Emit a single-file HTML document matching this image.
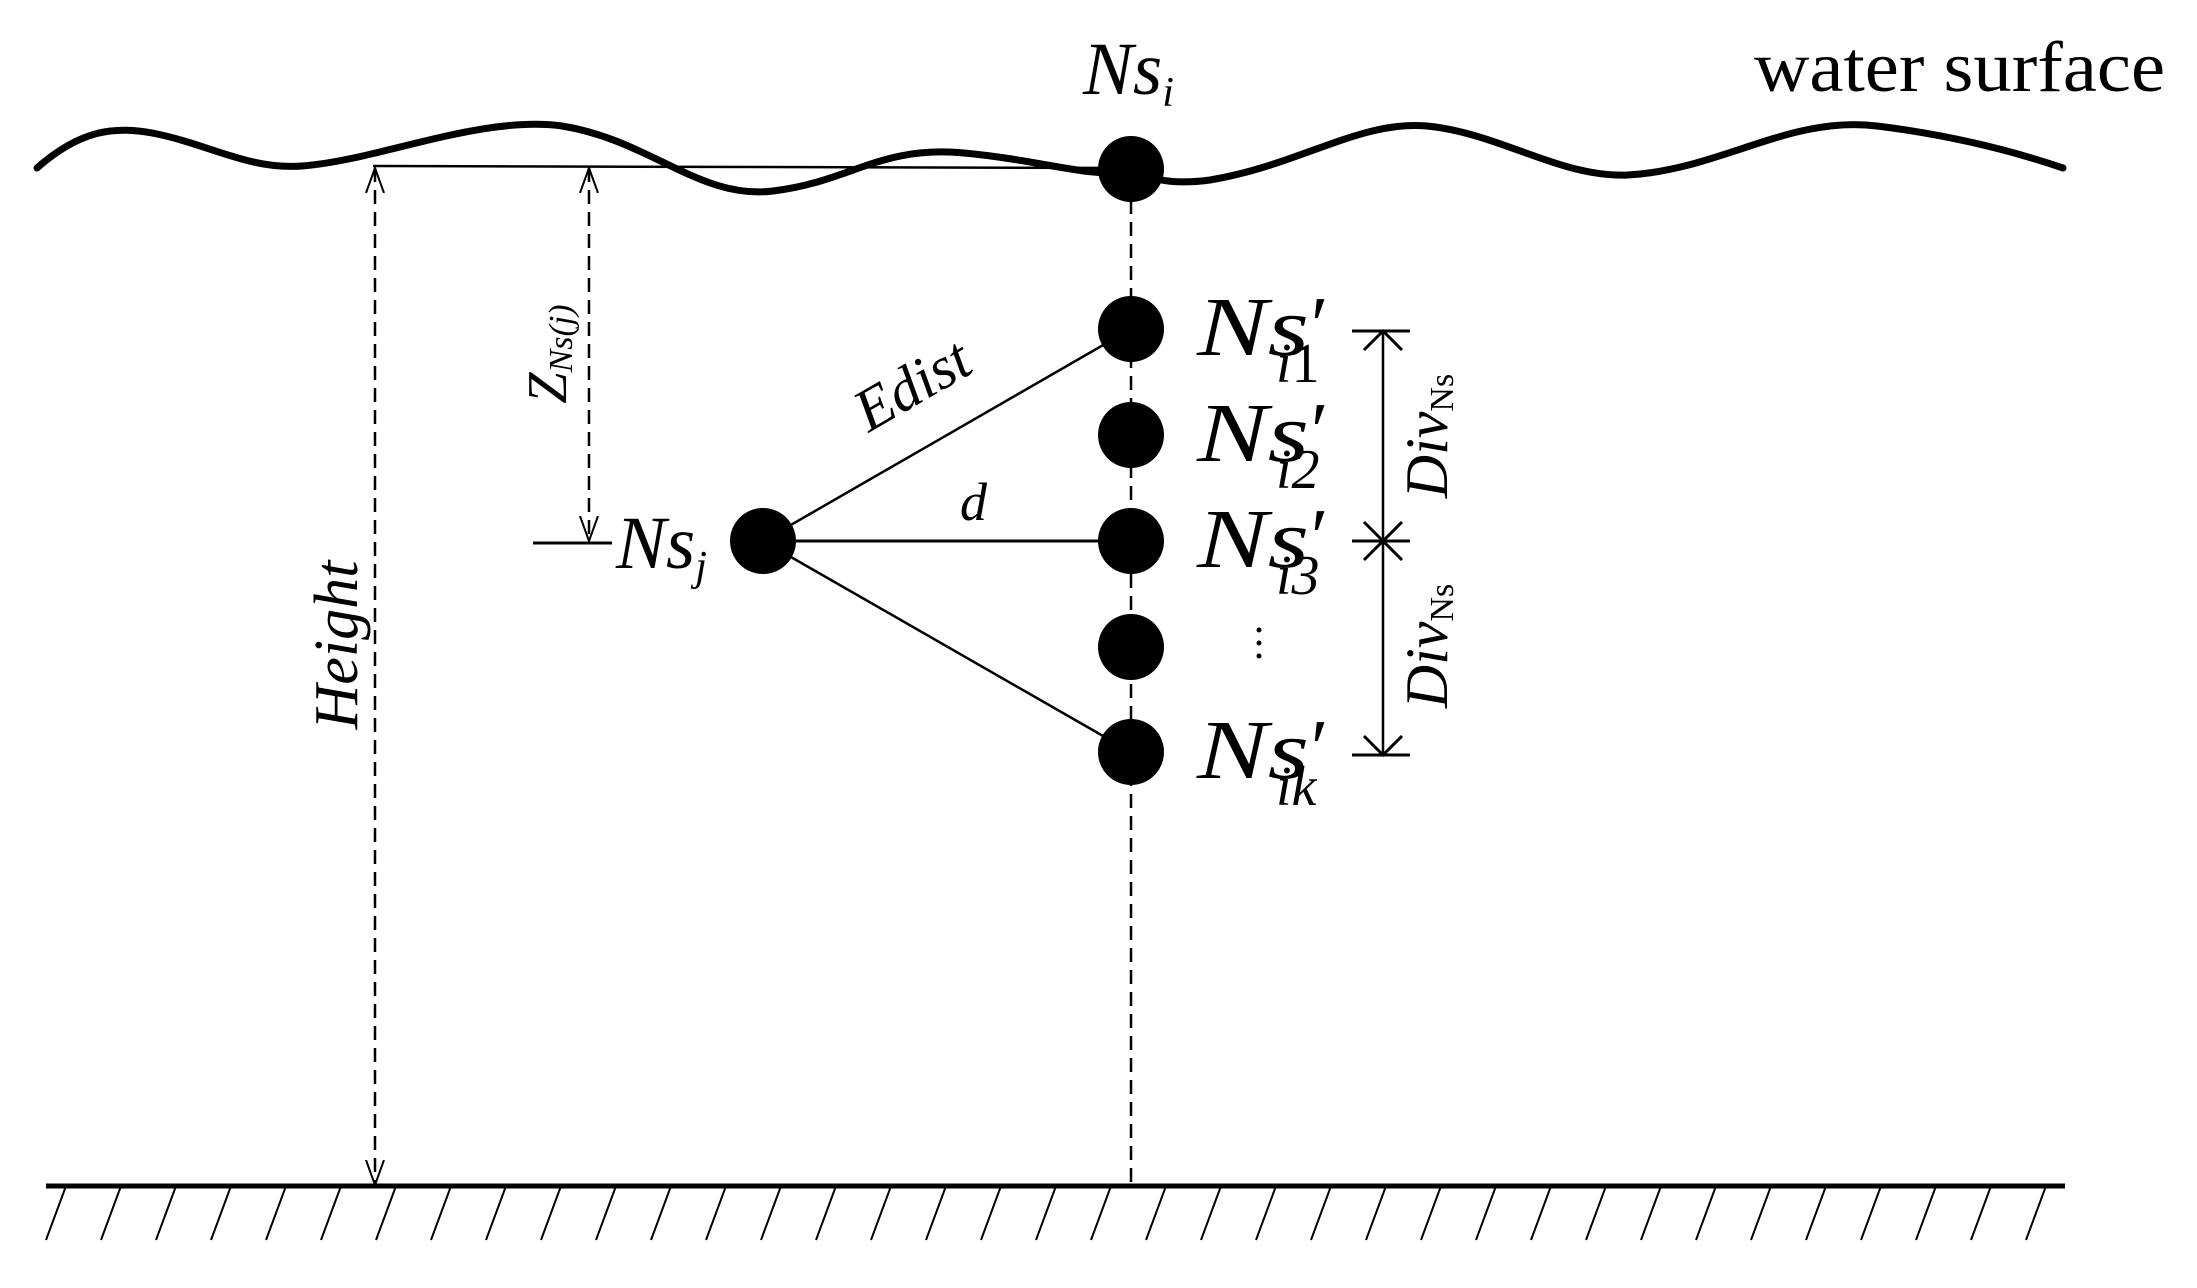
<!DOCTYPE html>
<html><head><meta charset="utf-8"><style>
html,body{margin:0;padding:0;background:#fff;}
svg{display:block;}
text{font-family:"Liberation Serif","DejaVu Serif",serif;fill:#000;}
.it{font-style:italic;}
</style></head><body>
<svg width="2197" height="1288" viewBox="0 0 2197 1288" xmlns="http://www.w3.org/2000/svg">
<defs>
<marker id="oa" viewBox="0 0 26 20" refX="25" refY="10" markerWidth="26" markerHeight="20" markerUnits="userSpaceOnUse" orient="auto-start-reverse">
<path d="M0,1 L25,10 L0,19" fill="none" stroke="#000" stroke-width="2"/>
</marker>
</defs>
<path d="M37,168 C80,130 115,125 157,134 C210,145 250,170 302,166 C380,160 480,115 562,126 C650,140 700,200 773,191 C850,182 880,145 964,153 C1040,160 1090,178 1131,172 C1160,182 1180,184 1210,180 C1300,165 1360,120 1427,126 C1500,133 1560,178 1628,175 C1720,170 1790,115 1877,126 C1950,135 2010,150 2063,168" fill="none" stroke="#000" stroke-width="7" stroke-linecap="round"/>
<line x1="373" y1="166" x2="1131" y2="168" stroke="#000" stroke-width="2.5"/>
<line x1="375" y1="168" x2="375" y2="1185" stroke="#000" stroke-width="2.5" stroke-dasharray="14,8" marker-start="url(#oa)" marker-end="url(#oa)"/>
<text class="it" x="0" y="0" font-size="62" transform="translate(357,645) rotate(-90)" text-anchor="middle">Height</text>
<line x1="589" y1="168" x2="589" y2="541" stroke="#000" stroke-width="2.5" stroke-dasharray="14,8" marker-start="url(#oa)" marker-end="url(#oa)"/>
<line x1="533" y1="543" x2="612" y2="543" stroke="#000" stroke-width="3"/>
<text x="0" y="0" font-size="56" transform="translate(566,354) rotate(-90)" text-anchor="middle"><tspan class="it">Z</tspan><tspan font-size="34" class="it" dy="6">Ns(j)</tspan></text>
<line x1="1131" y1="200" x2="1131" y2="1185" stroke="#000" stroke-width="2.5" stroke-dasharray="14,8"/>
<line x1="46" y1="1186" x2="2065" y2="1186" stroke="#000" stroke-width="5"/>
<g stroke="#000" stroke-width="2">
<path d="M46,1240 L66,1186 M101,1240 L121,1186 M156,1240 L176,1186 M211,1240 L231,1186 M266,1240 L286,1186 M321,1240 L341,1186 M376,1240 L396,1186 M431,1240 L451,1186 M486,1240 L506,1186 M541,1240 L561,1186 M596,1240 L616,1186 M651,1240 L671,1186 M706,1240 L726,1186 M761,1240 L781,1186 M816,1240 L836,1186 M871,1240 L891,1186 M926,1240 L946,1186 M981,1240 L1001,1186 M1036,1240 L1056,1186 M1091,1240 L1111,1186 M1146,1240 L1166,1186 M1201,1240 L1221,1186 M1256,1240 L1276,1186 M1311,1240 L1331,1186 M1366,1240 L1386,1186 M1421,1240 L1441,1186 M1476,1240 L1496,1186 M1531,1240 L1551,1186 M1586,1240 L1606,1186 M1641,1240 L1661,1186 M1696,1240 L1716,1186 M1751,1240 L1771,1186 M1806,1240 L1826,1186 M1861,1240 L1881,1186 M1916,1240 L1936,1186 M1971,1240 L1991,1186 M2026,1240 L2046,1186"/>
</g>
<line x1="763" y1="541" x2="1131" y2="329" stroke="#000" stroke-width="2.5"/>
<line x1="763" y1="541" x2="1131" y2="541" stroke="#000" stroke-width="3"/>
<line x1="763" y1="541" x2="1131" y2="752" stroke="#000" stroke-width="2.5"/>
<g fill="#000">
<ellipse cx="1131" cy="169" rx="33" ry="33"/>
<ellipse cx="1131" cy="329" rx="33" ry="33"/>
<ellipse cx="1131" cy="435" rx="33" ry="33"/>
<ellipse cx="1131" cy="541" rx="33" ry="33"/>
<ellipse cx="1131" cy="647" rx="33" ry="33"/>
<ellipse cx="1131" cy="752" rx="33" ry="33"/>
<ellipse cx="763" cy="541" rx="33" ry="33"/>
</g>
<text class="it" x="1083" y="94" font-size="75">Ns<tspan font-size="42" dy="12">i</tspan></text>
<text x="1754" y="91" font-size="72" textLength="411" lengthAdjust="spacingAndGlyphs">water surface</text>
<text class="it" x="616" y="568" font-size="75">Ns<tspan font-size="42" dy="12">j</tspan></text>
<text class="it" x="0" y="0" font-size="60" transform="translate(922,402) rotate(-30)" text-anchor="middle">Edist</text>
<text class="it" x="960" y="520" font-size="54">d</text>
<g font-size="84">
<text class="it" x="1197" y="355" textLength="112" lengthAdjust="spacingAndGlyphs">Ns</text>
<text class="it" x="1306" y="352" font-size="80">′</text>
<text class="it" x="1276" y="382" font-size="56">i<tspan font-style="normal">1</tspan></text>
<text class="it" x="1197" y="461" textLength="112" lengthAdjust="spacingAndGlyphs">Ns</text>
<text class="it" x="1306" y="458" font-size="80">′</text>
<text class="it" x="1276" y="488" font-size="56">i2</text>
<text class="it" x="1197" y="567" textLength="112" lengthAdjust="spacingAndGlyphs">Ns</text>
<text class="it" x="1306" y="564" font-size="80">′</text>
<text class="it" x="1276" y="594" font-size="56">i3</text>
<text class="it" x="1197" y="778" textLength="112" lengthAdjust="spacingAndGlyphs">Ns</text>
<text class="it" x="1306" y="775" font-size="80">′</text>
<text class="it" x="1276" y="805" font-size="56">ik</text>
</g>
<g fill="#000"><circle cx="1259" cy="630" r="2.5"/><circle cx="1259" cy="643" r="2.5"/><circle cx="1259" cy="656" r="2.5"/></g>
<line x1="1383" y1="331" x2="1383" y2="755" stroke="#000" stroke-width="2.5"/>
<g stroke="#000" stroke-width="3" fill="none">
<line x1="1352" y1="331" x2="1410" y2="331"/>
<line x1="1352" y1="541" x2="1410" y2="541"/>
<line x1="1352" y1="755" x2="1410" y2="755"/>
<path d="M1364,350 L1383,331 L1402,350"/>
<path d="M1364,522 L1383,541 L1402,522"/>
<path d="M1364,560 L1383,541 L1402,560"/>
<path d="M1364,736 L1383,755 L1402,736"/>
</g>
<text x="0" y="0" font-size="60" transform="translate(1447,436) rotate(-90)" text-anchor="middle"><tspan class="it">Div</tspan><tspan font-size="34" dy="6">Ns</tspan></text>
<text x="0" y="0" font-size="60" transform="translate(1447,646) rotate(-90)" text-anchor="middle"><tspan class="it">Div</tspan><tspan font-size="34" dy="6">Ns</tspan></text>
</svg>
</body></html>
